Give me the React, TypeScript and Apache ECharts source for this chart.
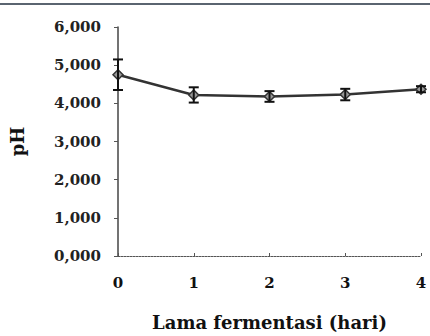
import React, { useEffect, useRef } from "react";
import * as echarts from "echarts";

const days = [0, 1, 2, 3, 4];
const phValues = [4.75, 4.22, 4.18, 4.23, 4.37];
const phErrors = [0.4, 0.2, 0.14, 0.15, 0.08];
const yTicks = [0, 1, 2, 3, 4, 5, 6];

const serif = "'DejaVu Serif', 'Liberation Serif', serif";

export default function App() {
  const ref = useRef<HTMLDivElement>(null);
  useEffect(() => {
    if (!ref.current) return;
    const chart = echarts.init(ref.current, null, { renderer: "svg" });
    const lineData = days.map((d, i) => [d, phValues[i]]);
    const errData = days.map((d, i) => [d, phValues[i] - phErrors[i], phValues[i] + phErrors[i]]);
    chart.setOption({
      animation: false,
      backgroundColor: "#ffffff",
      grid: { left: 118, right: 9, top: 27, bottom: 73 },
      xAxis: {
        type: "value",
        min: 0,
        max: 4,
        interval: 1,
        name: "Lama fermentasi (hari)",
        nameLocation: "middle",
        nameGap: 57,
        nameTextStyle: { fontFamily: serif, fontWeight: "bold", fontSize: 18, color: "#111" },
        axisLine: { show: true, lineStyle: { color: "#555", width: 1, type: [2, 1] } },
        axisTick: { show: true, inside: true, length: 3, lineStyle: { color: "#555" } },
        axisLabel: { fontFamily: serif, fontWeight: "bold", fontSize: 15, color: "#111", margin: 19 },
        splitLine: { show: false },
      },
      yAxis: {
        type: "value",
        min: 0,
        max: 6,
        interval: 1,
        name: "pH",
        nameLocation: "middle",
        nameGap: 92,
        nameTextStyle: { fontFamily: serif, fontWeight: "bold", fontSize: 18, color: "#111" },
        axisLine: { show: true, lineStyle: { color: "#444", width: 1.5 } },
        axisTick: { show: true, length: 4, lineStyle: { color: "#555" } },
        axisLabel: {
          fontFamily: serif,
          fontWeight: "bold",
          fontSize: 15,
          color: "#222",
          margin: 17,
          formatter: (v: number) => {
            const t = yTicks.find((x) => x === v);
            return t === undefined ? "" : t.toFixed(3).replace(".", ",");
          },
        },
        splitLine: { show: false },
      },
      graphic: [
        {
          type: "rect",
          shape: { x: 0, y: 3, width: 430, height: 2 },
          style: { fill: "#5a6470" },
          silent: true,
        },
      ],
      series: [
        {
          type: "line",
          data: lineData,
          symbol: "diamond",
          symbolSize: 10,
          lineStyle: { color: "#333", width: 2.5 },
          itemStyle: { color: "#999", borderColor: "#333", borderWidth: 1.5 },
          z: 3,
        },
        {
          type: "custom",
          data: errData,
          z: 4,
          renderItem: (params: any, api: any) => {
            const x = api.value(0);
            const lo = api.coord([x, api.value(1)]);
            const hi = api.coord([x, api.value(2)]);
            const cap = 5;
            const style = { stroke: "#111", lineWidth: 2 };
            return {
              type: "group",
              children: [
                { type: "line", shape: { x1: lo[0], y1: lo[1], x2: hi[0], y2: hi[1] }, style },
                { type: "line", shape: { x1: lo[0] - cap, y1: lo[1], x2: lo[0] + cap, y2: lo[1] }, style },
                { type: "line", shape: { x1: hi[0] - cap, y1: hi[1], x2: hi[0] + cap, y2: hi[1] }, style },
              ],
            };
          },
        },
      ],
    });
    return () => chart.dispose();
  }, []);
  return <div ref={ref} style={{ width: 430, height: 336, position: "absolute", left: 0, top: 0 }} />;
}
